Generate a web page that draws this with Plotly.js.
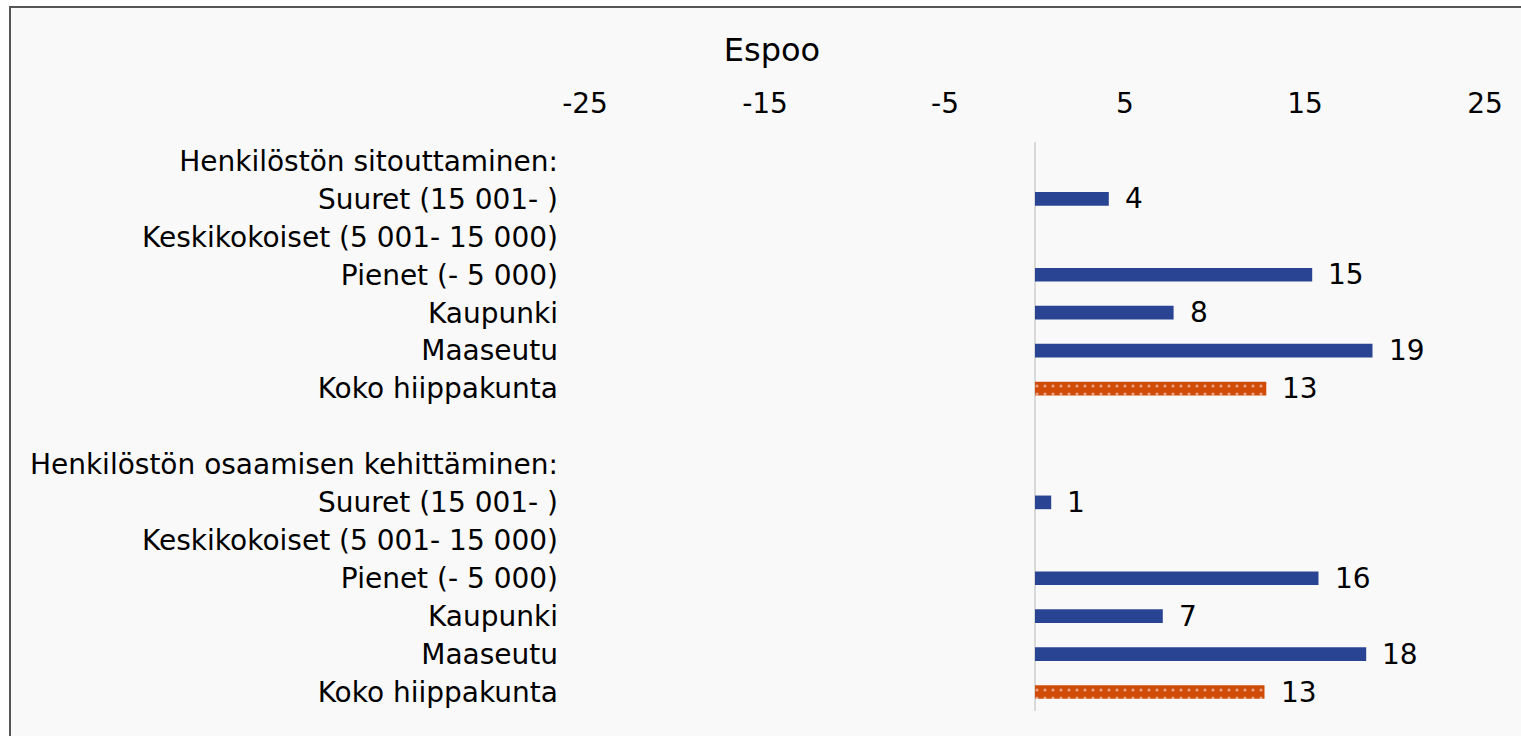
<!DOCTYPE html>
<html>
<head>
<meta charset="utf-8">
<script src="https://cdn.plot.ly/plotly-3.0.1.min.js"></script>
<style>
html,body{margin:0;padding:0;width:1521px;height:736px;overflow:hidden;background:#ffffff;}
#frame{position:absolute;left:9px;top:6px;width:1600px;height:800px;background:#f9f9f9;border:2px solid #555555;box-sizing:border-box;}
#chart{position:absolute;left:0;top:0;width:1521px;height:736px;}
</style>
</head>
<body>
<div id="frame"></div>
<div id="chart"></div>
<script>
const chartTitle = "Espoo";
const categories = [
  "Henkilöstön sitouttaminen:",
  "Suuret (15 001- )",
  "Keskikokoiset (5 001- 15 000)",
  "Pienet (- 5 000)",
  "Kaupunki",
  "Maaseutu",
  "Koko hiippakunta",
  "",
  "Henkilöstön osaamisen kehittäminen:",
  "Suuret (15 001- )",
  "Keskikokoiset (5 001- 15 000)",
  "Pienet (- 5 000)",
  "Kaupunki",
  "Maaseutu",
  "Koko hiippakunta"
];
const groupValues = [null, 4.1, null, 15.4, 7.7, 18.75, null, null, null, 0.9, null, 15.75, 7.1, 18.4, null];
const totalValues = [null, null, null, null, null, null, 12.85, null, null, null, null, null, null, null, 12.75];
const xTicks = [-25, -15, -5, 5, 15, 25];

const rows = categories.map((_, i) => i);
const FONT = "DejaVu Sans, Verdana, sans-serif";
const FS = 28;
const blue = "#2a4494";
const orange = "#d04b06";

const traces = [
  {
    type: "bar", orientation: "h", x: groupValues, y: rows, width: 0.36,
    marker: {color: blue, line: {width: 0}}, hoverinfo: "x", showlegend: false
  },
  {
    type: "bar", orientation: "h", x: totalValues, y: rows, width: 0.36,
    marker: {color: orange, line: {width: 0},
      pattern: {shape: ".", bgcolor: orange, fgcolor: "#ffffff", fillmode: "overlay", size: 8, solidity: 0.12}},
    hoverinfo: "x", showlegend: false
  }
];

const annotations = [];
[groupValues, totalValues].forEach(arr => {
  arr.forEach((v, i) => {
    if (v !== null) {
      annotations.push({
        x: v, y: i, xref: "x", yref: "y", text: String(Math.round(v)),
        showarrow: false, xanchor: "left", yanchor: "middle", xshift: 14, yshift: 0,
        font: {family: FONT, size: FS, color: "#000000"}
      });
    }
  });
});

const layout = {
  width: 1521, height: 736,
  paper_bgcolor: "rgba(0,0,0,0)", plot_bgcolor: "rgba(0,0,0,0)",
  margin: {l: 585, r: 36, t: 142, b: 25, pad: 0},
  barmode: "overlay",
  title: {text: chartTitle, font: {family: FONT, size: 32, color: "#000000"},
    x: 772/1521, xref: "container", xanchor: "center", y: 1 - 50/736, yref: "container", yanchor: "middle"},
  xaxis: {
    side: "top", range: [-25, 25], tickmode: "array", tickvals: xTicks, ticktext: xTicks.map(String),
    showgrid: false, zeroline: true, zerolinecolor: "#d9d9d9", zerolinewidth: 1.5,
    showline: false, ticks: "", ticklabelstandoff: 22,
    tickfont: {family: FONT, size: FS, color: "#000000"}, fixedrange: true
  },
  yaxis: {
    range: [14.5, -0.5], tickmode: "array", tickvals: rows, ticktext: categories,
    showgrid: false, zeroline: false, showline: false, ticks: "", ticklabelstandoff: 26,
    tickfont: {family: FONT, size: FS, color: "#000000"}, fixedrange: true
  },
  annotations: annotations,
  font: {family: FONT}
};

Plotly.newPlot("chart", traces, layout, {displayModeBar: false, staticPlot: true});
</script>
</body>
</html>
